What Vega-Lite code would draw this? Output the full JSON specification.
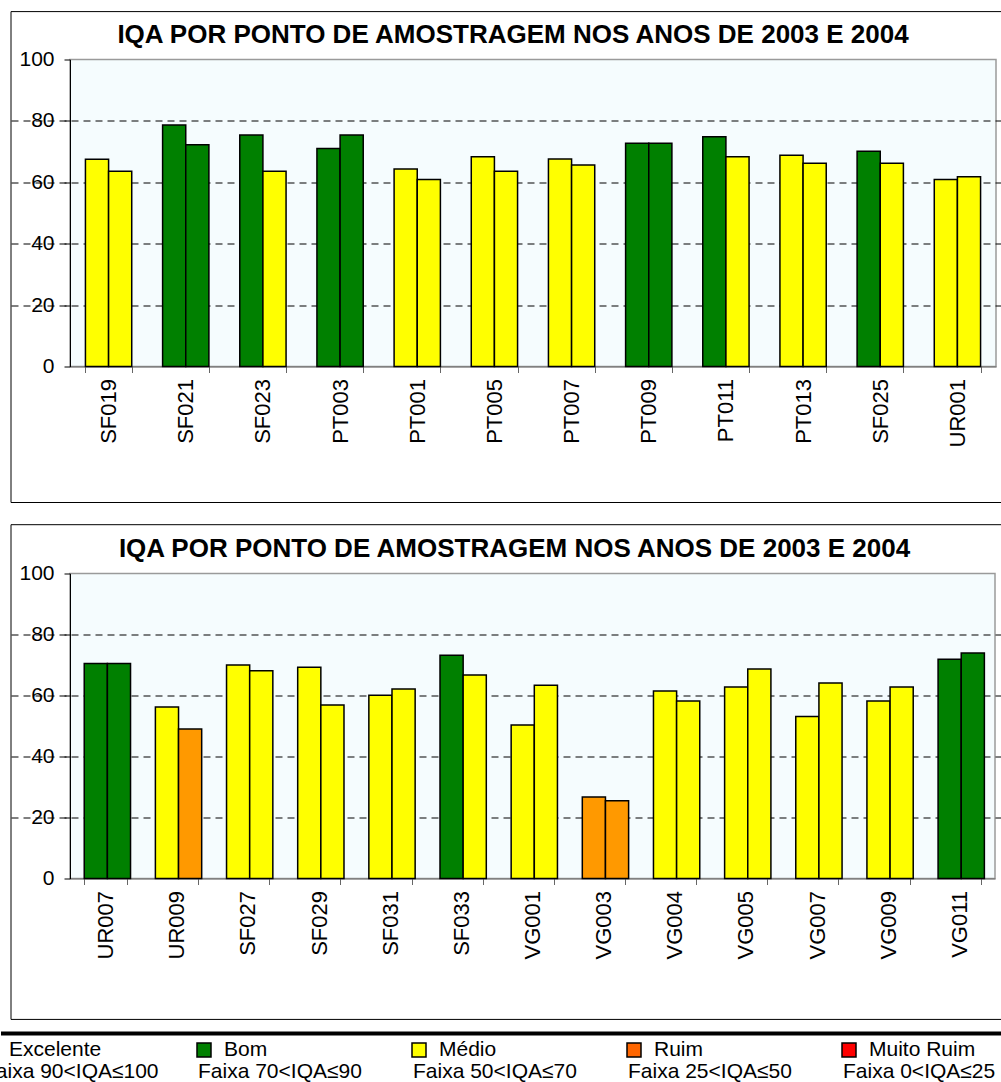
{
  "$schema": "https://vega.github.io/schema/vega-lite/v6.json",
  "autosize": {"type": "pad"},
  "padding": {"top": 9.5, "left": -41, "right": -18, "bottom": 0},
  "background": "white",
  "spacing": 0,
  "columns": 1,
  "bounds": "full",
  "config": {
    "font": "Liberation Sans",
    "view": {"fill": "#F5FCFE", "stroke": "#9a9a9a", "strokeWidth": 1.5},
    "axis": {"labelFont": "Liberation Sans", "labelColor": "black", "labelFontSize": 21, "title": null},
    "title": {"font": "Liberation Sans", "fontSize": 26, "fontWeight": "bold", "color": "black", "anchor": "middle", "frame": "group", "baseline": "alphabetic"}
  },
  "datasets": {
    "topo": [
      {"ponto": "SF019", "ano": "2003", "iqa": 67.5, "classe": "Médio"},
      {"ponto": "SF019", "ano": "2004", "iqa": 63.6, "classe": "Médio"},
      {"ponto": "SF021", "ano": "2003", "iqa": 78.7, "classe": "Bom"},
      {"ponto": "SF021", "ano": "2004", "iqa": 72.2, "classe": "Bom"},
      {"ponto": "SF023", "ano": "2003", "iqa": 75.4, "classe": "Bom"},
      {"ponto": "SF023", "ano": "2004", "iqa": 63.6, "classe": "Médio"},
      {"ponto": "PT003", "ano": "2003", "iqa": 71.0, "classe": "Bom"},
      {"ponto": "PT003", "ano": "2004", "iqa": 75.4, "classe": "Bom"},
      {"ponto": "PT001", "ano": "2003", "iqa": 64.3, "classe": "Médio"},
      {"ponto": "PT001", "ano": "2004", "iqa": 60.9, "classe": "Médio"},
      {"ponto": "PT005", "ano": "2003", "iqa": 68.3, "classe": "Médio"},
      {"ponto": "PT005", "ano": "2004", "iqa": 63.6, "classe": "Médio"},
      {"ponto": "PT007", "ano": "2003", "iqa": 67.6, "classe": "Médio"},
      {"ponto": "PT007", "ano": "2004", "iqa": 65.6, "classe": "Médio"},
      {"ponto": "PT009", "ano": "2003", "iqa": 72.7, "classe": "Bom"},
      {"ponto": "PT009", "ano": "2004", "iqa": 72.7, "classe": "Bom"},
      {"ponto": "PT011", "ano": "2003", "iqa": 74.8, "classe": "Bom"},
      {"ponto": "PT011", "ano": "2004", "iqa": 68.3, "classe": "Médio"},
      {"ponto": "PT013", "ano": "2003", "iqa": 68.8, "classe": "Médio"},
      {"ponto": "PT013", "ano": "2004", "iqa": 66.2, "classe": "Médio"},
      {"ponto": "SF025", "ano": "2003", "iqa": 70.1, "classe": "Bom"},
      {"ponto": "SF025", "ano": "2004", "iqa": 66.2, "classe": "Médio"},
      {"ponto": "UR001", "ano": "2003", "iqa": 60.9, "classe": "Médio"},
      {"ponto": "UR001", "ano": "2004", "iqa": 61.8, "classe": "Médio"}
    ],
    "baixo": [
      {"ponto": "UR007", "ano": "2003", "iqa": 70.5, "classe": "Bom"},
      {"ponto": "UR007", "ano": "2004", "iqa": 70.5, "classe": "Bom"},
      {"ponto": "UR009", "ano": "2003", "iqa": 56.2, "classe": "Médio"},
      {"ponto": "UR009", "ano": "2004", "iqa": 49.0, "classe": "Ruim"},
      {"ponto": "SF027", "ano": "2003", "iqa": 70.0, "classe": "Médio"},
      {"ponto": "SF027", "ano": "2004", "iqa": 68.1, "classe": "Médio"},
      {"ponto": "SF029", "ano": "2003", "iqa": 69.3, "classe": "Médio"},
      {"ponto": "SF029", "ano": "2004", "iqa": 56.9, "classe": "Médio"},
      {"ponto": "SF031", "ano": "2003", "iqa": 60.1, "classe": "Médio"},
      {"ponto": "SF031", "ano": "2004", "iqa": 62.1, "classe": "Médio"},
      {"ponto": "SF033", "ano": "2003", "iqa": 73.2, "classe": "Bom"},
      {"ponto": "SF033", "ano": "2004", "iqa": 66.7, "classe": "Médio"},
      {"ponto": "VG001", "ano": "2003", "iqa": 50.3, "classe": "Médio"},
      {"ponto": "VG001", "ano": "2004", "iqa": 63.4, "classe": "Médio"},
      {"ponto": "VG003", "ano": "2003", "iqa": 26.7, "classe": "Ruim"},
      {"ponto": "VG003", "ano": "2004", "iqa": 25.5, "classe": "Ruim"},
      {"ponto": "VG004", "ano": "2003", "iqa": 61.5, "classe": "Médio"},
      {"ponto": "VG004", "ano": "2004", "iqa": 58.2, "classe": "Médio"},
      {"ponto": "VG005", "ano": "2003", "iqa": 62.8, "classe": "Médio"},
      {"ponto": "VG005", "ano": "2004", "iqa": 68.7, "classe": "Médio"},
      {"ponto": "VG007", "ano": "2003", "iqa": 53.1, "classe": "Médio"},
      {"ponto": "VG007", "ano": "2004", "iqa": 64.1, "classe": "Médio"},
      {"ponto": "VG009", "ano": "2003", "iqa": 58.2, "classe": "Médio"},
      {"ponto": "VG009", "ano": "2004", "iqa": 62.8, "classe": "Médio"},
      {"ponto": "VG011", "ano": "2003", "iqa": 71.9, "classe": "Bom"},
      {"ponto": "VG011", "ano": "2004", "iqa": 73.9, "classe": "Bom"}
    ],
    "legenda": [
      {"classe": "Excelente", "faixa": "Faixa 90<IQA≤100"},
      {"classe": "Bom", "faixa": "Faixa 70<IQA≤90"},
      {"classe": "Médio", "faixa": "Faixa 50<IQA≤70"},
      {"classe": "Ruim", "faixa": "Faixa 25<IQA≤50"},
      {"classe": "Muito Ruim", "faixa": "Faixa 0<IQA≤25"}
    ]
  },
  "concat": [
    {
      "width": 926,
      "height": 307,
      "title": {"text": "IQA POR PONTO DE AMOSTRAGEM NOS ANOS DE 2003 E 2004", "dx": -20, "offset": -36.7},
      "resolve": {"scale": {"x": "independent"}},
      "layer": [
        {
          "data": {"values": [{"quadro": "moldura"}]},
          "mark": {"type": "rect", "fill": null, "stroke": "black", "strokeWidth": 1},
          "encoding": {
            "x": {"datum": 0, "type": "quantitative", "scale": {"domain": [0, 1], "range": [-59, 950]}, "axis": null},
            "x2": {"datum": 1},
            "y": {"datum": 115.6, "type": "quantitative"},
            "y2": {"datum": -44.3}
          }
        },
        {
          "data": {"name": "topo"},
          "mark": {"type": "bar", "stroke": "black", "strokeWidth": 1.5},
          "encoding": {
            "x": {
              "field": "ponto", "type": "nominal", "sort": null,
              "scale": {"paddingInner": 0.4, "paddingOuter": 0.2},
              "axis": {"labelAngle": 270, "labelPadding": 6, "labelFontSize": 22, "tickSize": 6, "tickBand": "extent", "domainColor": "#666", "tickColor": "#666", "minExtent": 155, "maxExtent": 155}
            },
            "xOffset": {"field": "ano", "type": "nominal", "scale": {"paddingInner": 0}},
            "y": {
              "field": "iqa", "type": "quantitative",
              "scale": {"domain": [0, 100], "nice": false},
              "axis": {"values": [0, 20, 40, 60, 80, 100], "tickSize": 6, "labelPadding": 10, "domainColor": "black", "tickColor": "black", "grid": true, "gridColor": "black", "gridDash": [7, 5], "gridOpacity": {"condition": {"test": "datum.value > 0 && datum.value < 100", "value": 1}, "value": 0}, "minExtent": 110, "maxExtent": 110}
            },
            "color": {
              "field": "classe", "type": "nominal",
              "scale": {"domain": ["Excelente", "Bom", "Médio", "Ruim", "Muito Ruim"], "range": ["#3366FF", "#008000", "#FFFF00", "#FF9900", "#FF0000"]},
              "legend": null
            }
          }
        }
      ]
    },
    {
      "width": 925,
      "height": 305,
      "title": {"text": "IQA POR PONTO DE AMOSTRAGEM NOS ANOS DE 2003 E 2004", "dx": -18, "offset": -37.5},
      "resolve": {"scale": {"x": "independent"}},
      "layer": [
        {
          "data": {"values": [{"quadro": "moldura"}]},
          "mark": {"type": "rect", "fill": null, "stroke": "black", "strokeWidth": 1},
          "encoding": {
            "x": {"datum": 0, "type": "quantitative", "scale": {"domain": [0, 1], "range": [-59, 950]}, "axis": null},
            "x2": {"datum": 1},
            "y": {"datum": 116.0, "type": "quantitative"},
            "y2": {"datum": -46.2}
          }
        },
        {
          "data": {"name": "baixo"},
          "mark": {"type": "bar", "stroke": "black", "strokeWidth": 1.5},
          "encoding": {
            "x": {
              "field": "ponto", "type": "nominal", "sort": null,
              "scale": {"paddingInner": 0.4, "paddingOuter": 0.2},
              "axis": {"labelAngle": 270, "labelPadding": 6, "labelFontSize": 22, "tickSize": 6, "tickBand": "extent", "domainColor": "#666", "tickColor": "#666", "minExtent": 152, "maxExtent": 152}
            },
            "xOffset": {"field": "ano", "type": "nominal", "scale": {"paddingInner": 0}},
            "y": {
              "field": "iqa", "type": "quantitative",
              "scale": {"domain": [0, 100], "nice": false},
              "axis": {"values": [0, 20, 40, 60, 80, 100], "tickSize": 6, "labelPadding": 10, "domainColor": "black", "tickColor": "black", "grid": true, "gridColor": "black", "gridDash": [7, 5], "gridOpacity": {"condition": {"test": "datum.value > 0 && datum.value < 100", "value": 1}, "value": 0}, "minExtent": 110, "maxExtent": 110}
            },
            "color": {
              "field": "classe", "type": "nominal",
              "scale": {"domain": ["Excelente", "Bom", "Médio", "Ruim", "Muito Ruim"], "range": ["#3366FF", "#008000", "#FFFF00", "#FF9900", "#FF0000"]},
              "legend": null
            }
          }
        }
      ]
    },
    {
      "data": {"name": "legenda"},
      "width": 932,
      "height": 53,
      "view": {"stroke": null, "fill": null},
      "resolve": {"scale": {"x": "independent"}},
      "layer": [
        {
          "data": {"values": [{"linha": "topo"}]},
          "mark": {"type": "rule", "color": "black", "strokeWidth": 4},
          "encoding": {
            "x": {"datum": 0, "type": "quantitative", "scale": {"domain": [0, 1], "range": [-69, 950]}, "axis": null},
            "x2": {"datum": 1},
            "y": {"field": "linha", "type": "nominal", "scale": {"type": "point", "padding": 0, "domain": ["topo", "nome", "faixa"], "range": [0, 33]}, "axis": null}
          }
        },
        {
          "mark": {"type": "square", "size": 196, "filled": true, "stroke": "black", "strokeWidth": 1.5, "opacity": 1},
          "encoding": {
            "x": {"field": "classe", "type": "nominal", "sort": null, "scale": {"type": "point", "padding": 0, "domain": ["Excelente", "Bom", "Médio", "Ruim", "Muito Ruim"], "range": [-81, 779]}, "axis": null},
            "y": {"datum": "nome", "type": "nominal"},
            "fill": {"field": "classe", "type": "nominal", "scale": {"domain": ["Excelente", "Bom", "Médio", "Ruim", "Muito Ruim"], "range": ["#3366FF", "#008000", "#FFFF00", "#FF6600", "#FF0000"]}, "legend": null}
          }
        },
        {
          "mark": {"type": "text", "align": "left", "baseline": "alphabetic", "dx": 20, "dy": 6, "fontSize": 21, "font": "Liberation Sans", "color": "black"},
          "encoding": {
            "x": {"field": "classe", "type": "nominal", "sort": null, "scale": {"type": "point", "padding": 0, "domain": ["Excelente", "Bom", "Médio", "Ruim", "Muito Ruim"], "range": [-81, 779]}, "axis": null},
            "y": {"datum": "nome", "type": "nominal"},
            "text": {"field": "classe"}
          }
        },
        {
          "mark": {"type": "text", "align": "left", "baseline": "alphabetic", "dx": -6, "dy": 11.5, "fontSize": 21, "font": "Liberation Sans", "color": "black"},
          "encoding": {
            "x": {"field": "classe", "type": "nominal", "sort": null, "scale": {"type": "point", "padding": 0, "domain": ["Excelente", "Bom", "Médio", "Ruim", "Muito Ruim"], "range": [-81, 779]}, "axis": null},
            "y": {"datum": "faixa", "type": "nominal"},
            "text": {"field": "faixa"}
          }
        }
      ]
    }
  ]
}
